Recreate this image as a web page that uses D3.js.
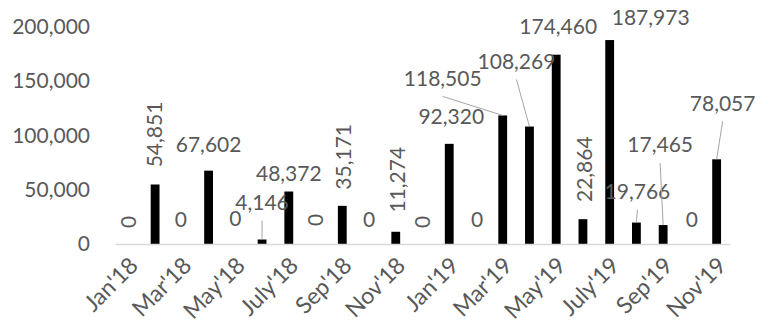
<!DOCTYPE html>
<html>
<head>
<meta charset="utf-8">
<script src="https://cdn.jsdelivr.net/npm/d3@7"></script>
<style>
  html, body { margin: 0; padding: 0; background: #fff; }
  svg text { font-family: Lato, "Open Sans", sans-serif; fill: #595959; }
</style>
</head>
<body>
<svg id="chart" width="760" height="329"></svg>
<script>
const SVG_WIDTH = 760;
const SVG_HEIGHT = 329;
const PLOT = { left: 115, right: 730, top: 27, bottom: 244 };
const FONT_SIZE = 21;
const X_FONT_SIZE = 23;
const TEXT_COLOR = "#595959";
const AXIS_COLOR = "#d9d9d9";
const LEADER_COLOR = "#a6a6a6";
const BAR_COLOR = "#000000";

// data
const months = ["Jan'18", "Feb'18", "Mar'18", "Apr'18", "May'18", "Jun'18", "July'18", "Aug'18",
                "Sep'18", "Oct'18", "Nov'18", "Dec'18", "Jan'19", "Feb'19", "Mar'19", "Apr'19",
                "May'19", "Jun'19", "July'19", "Aug'19", "Sep'19", "Oct'19", "Nov'19"];
const values = [0, 54851, 0, 67602, 0, 4146, 48372, 0,
                35171, 0, 11274, 0, 92320, 0, 118505, 108269,
                174460, 22864, 187973, 19766, 17465, 0, 78057];
const yTicks = [0, 50000, 100000, 150000, 200000];

// label placement relative to the top of each bar: [dx, dy, rotated, leader line]
const LABEL_LAYOUT = [
    [0, -22, true, false], [0, -50, true, false], [-1, -24, false, false], [0, -26, false, false],
    [0, -25, false, false], [0, -37, false, true], [0, -18, false, false], [0, -24, true, false],
    [1, -49, true, false], [0, -24, false, false], [2, -52, true, false], [0, -22, true, false],
    [2, -27, false, false], [1, -24, false, false], [-60, -37, false, true], [-13, -65, false, true],
    [2, -28, false, false], [2, -50, true, false], [41, -22, false, false], [1, -31, false, true],
    [-3, -80, false, true], [2, -24, false, false], [6, -56, false, true]
];
const LEADER_START = 18;

const fmt = d3.format(",");
const svg = d3.select("#chart");

const x = d3.scaleBand()
    .domain(months)
    .range([PLOT.left, PLOT.right])
    .paddingInner(0.67)
    .paddingOuter(0.335);

const y = d3.scaleLinear()
    .domain([0, 200000])
    .range([PLOT.bottom, PLOT.top]);

// y axis labels, no line
const yAxis = svg.append("g")
    .attr("transform", `translate(${PLOT.left},0)`)
    .call(d3.axisLeft(y).tickValues(yTicks).tickFormat(fmt).tickSize(0).tickPadding(25));
yAxis.select(".domain").remove();
yAxis.selectAll("text")
    .style("font-size", FONT_SIZE + "px")
    .attr("fill", TEXT_COLOR);

// bars
svg.append("g")
    .selectAll("rect")
    .data(values)
    .enter()
    .append("rect")
    .attr("x", (d, i) => x(months[i]))
    .attr("width", x.bandwidth())
    .attr("y", d => y(d))
    .attr("height", d => y(0) - y(d))
    .attr("fill", BAR_COLOR);

// x axis, every other month labelled
const xAxis = svg.append("g")
    .attr("transform", `translate(0,${PLOT.bottom})`)
    .call(d3.axisBottom(x)
        .tickSize(0)
        .tickFormat((d, i) => i % 2 === 0 ? d : ""));
xAxis.select(".domain")
    .attr("stroke", AXIS_COLOR)
    .attr("stroke-width", 1.5);
xAxis.selectAll("text")
    .style("font-size", X_FONT_SIZE + "px")
    .attr("fill", TEXT_COLOR)
    .attr("text-anchor", "end")
    .attr("dy", null)
    .attr("y", 0)
    .attr("transform", "translate(11,23) rotate(-45)");

// data labels
const labels = svg.append("g");
values.forEach((v, i) => {
    const [dx, dy, rotated, leader] = LABEL_LAYOUT[i];
    const bx = x(months[i]) + x.bandwidth() / 2;
    const by = y(v);
    const lx = bx + dx;
    const ly = by + dy;
    if (leader) {
        labels.append("line")
            .attr("x1", lx)
            .attr("y1", ly + LEADER_START)
            .attr("x2", bx)
            .attr("y2", by)
            .attr("stroke", LEADER_COLOR)
            .attr("stroke-width", 1);
    }
    labels.append("text")
        .attr("transform", `translate(${lx},${ly})` + (rotated ? " rotate(-90)" : ""))
        .attr("text-anchor", "middle")
        .attr("dy", "0.35em")
        .style("font-size", FONT_SIZE + "px")
        .text(fmt(v));
});
</script>
</body>
</html>
